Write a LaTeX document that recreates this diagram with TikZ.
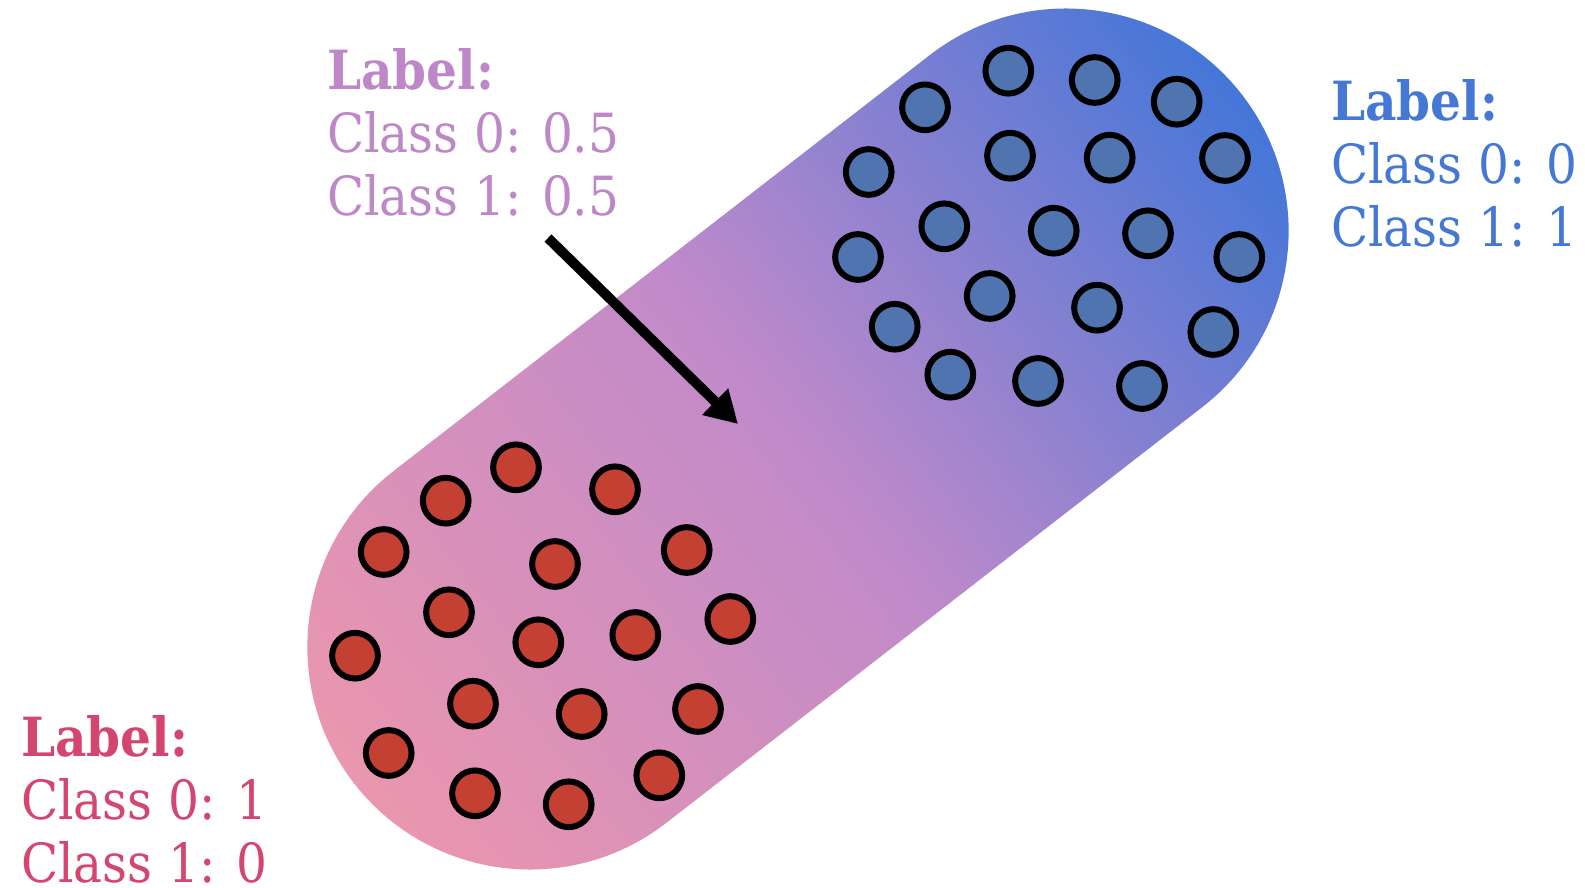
\documentclass[tikz,border=0pt]{standalone}
\usepackage{fontspec}
\setmainfont{DejaVu Serif}[FakeStretch=0.9]
\usetikzlibrary{arrows.meta}
\definecolor{capPink}{RGB}{234,150,174}
\definecolor{capPurple}{RGB}{192,138,202}
\definecolor{capBlue}{RGB}{68,118,216}
\definecolor{labPink}{RGB}{212,70,112}
\definecolor{labPurple}{RGB}{190,136,200}
\definecolor{labBlue}{RGB}{68,120,212}
\definecolor{dotRed}{RGB}{196,64,50}
\definecolor{dotBlue}{RGB}{80,116,176}
\begin{document}
\begin{tikzpicture}[x=1pt,y=-1pt,
  dot/.style={circle, draw=black, line width=6pt, minimum size=45.7pt, inner sep=0pt},
  reddot/.style={dot, fill=dotRed},
  bluedot/.style={dot, fill=dotBlue},
  lab/.style={anchor=base west, align=left, inner sep=0pt, font=\fontsize{54}{63}\selectfont},
  pointer/.style={line width=10pt, -{Triangle[length=32pt,width=35pt]}}]
\useasboundingbox (0,0) rectangle (1585,888);
% capsule
\begin{scope}[transform canvas={shift={(798,439)}, rotate=37.8}]
\shade[left color=capPink, right color=capBlue, middle color=capPurple]
  (-339.25,-222.6) -- (339.25,-222.6) arc[start angle=-90, end angle=90, radius=222.6]
  -- (-339.25,222.6) arc[start angle=90, end angle=270, radius=222.6] -- cycle;
\end{scope}
% red dots
\foreach \px/\py [count=\i] in {516/467.3, 445.7/500.7, 615/489.3, 383.7/552, 555/564, 686.7/550,
  449/612.3, 538.3/642.3, 635.3/635, 730.3/619, 355/655.7, 473/703.7, 581.7/714, 698/709,
  388.7/753, 475/793.3, 568.7/804.3, 659.3/775.3}
  \node[reddot] (r\i) at (\px,\py) {};
% blue dots
\foreach \px/\py [count=\i] in {1008.3/70.7, 1094.7/80, 1176.7/101.7, 925/107.3, 868.7/172,
  1010/155.7, 1109.7/157.7, 1225/158, 944.3/226.3, 1053.7/230.7, 1148/233.3, 858/257,
  1239.3/257, 989.7/296, 1097/307.7, 894.7/326.7, 1213.3/332, 950.3/374.7, 1038/381, 1142/386}
  \node[bluedot] (b\i) at (\px,\py) {};
% labels (anchored at the baseline of the last line)
\node[lab, text=labPurple] (lmid) at (327,215) {\textbf{Label:}\\Class 0: 0.5\\Class 1: 0.5};
\node[lab, text=labBlue] (lblue) at (1331,246.7) {\textbf{Label:}\\Class 0: 0\\Class 1: 1};
\node[lab, text=labPink] (lpink) at (21,882.7) {\textbf{Label:}\\Class 0: 1\\Class 1: 0};
% arrow
\coordinate (arrS) at (548,238);
\coordinate (arrE) at (738,424);
\draw[pointer] (arrS) -- (arrE);
\end{tikzpicture}
\end{document}
